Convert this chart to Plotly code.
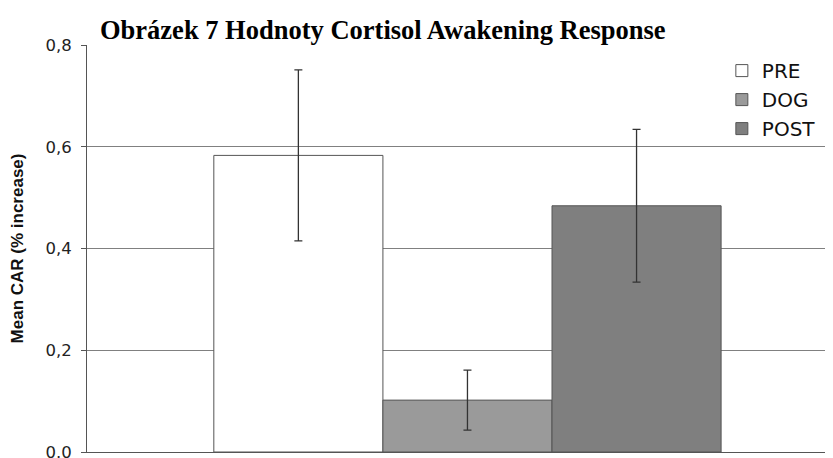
import plotly.graph_objects as go

groups = ["PRE", "DOG", "POST"]
means = [0.583, 0.102, 0.484]
errors = [0.168, 0.059, 0.150]
fills = ["#ffffff", "#9a9a9a", "#7f7f7f"]
y_ticks = [0.0, 0.2, 0.4, 0.6, 0.8]
y_tick_labels = ["0.0", "0,2", "0,4", "0,6", "0,8"]

fig = go.Figure()
for g, m, e, c in zip(groups, means, errors, fills):
    fig.add_trace(go.Bar(
        x=[0], y=[m], name=g, offsetgroup=g,
        marker=dict(color=c, line=dict(color="#555555", width=1)),
        error_y=dict(type="data", array=[e], visible=True, color="#333333", thickness=1.3, width=4),
    ))

# page body has an 8px margin, so the figure is 825x450 placed at (8, 8)
fig.update_layout(
    width=825, height=450,
    barmode="group", bargap=0.32, bargroupgap=0,
    plot_bgcolor="white", paper_bgcolor="white",
    margin=dict(l=79, r=0, t=37, b=6, autoexpand=False),
    title=dict(text="<b>Obrázek 7 Hodnoty Cortisol Awakening Response</b>",
               font=dict(family="Liberation Serif", size=26.5, color="black"),
               x=92/825, xanchor="left", y=1-22/450, yanchor="middle"),
    font=dict(family="DejaVu Sans", color="#222222"),
    xaxis=dict(range=[-0.51, 0.49], showticklabels=False, showgrid=False, zeroline=False,
               showline=True, linecolor="#555555", linewidth=1, ticks=""),
    yaxis=dict(range=[0, 0.8], tickvals=y_ticks, ticktext=y_tick_labels,
               showgrid=True, gridcolor="#808080", gridwidth=1, zeroline=False,
               showline=True, linecolor="#555555", linewidth=1,
               ticks="outside", ticklen=5, tickcolor="#555555", ticklabelstandoff=6,
               ticklabeloverflow="allow",
               tickfont=dict(family="DejaVu Sans", size=16.5, color="#222222"),
               title=dict(text="<b>Mean CAR (% increase)</b>",
                          font=dict(family="Liberation Sans", size=17, color="#111111"), standoff=17)),
    legend=dict(x=0.851, xanchor="left", y=0.985, yanchor="top",
                font=dict(family="DejaVu Sans", size=20, color="#111111"),
                bgcolor="rgba(0,0,0,0)", tracegroupgap=0),
    showlegend=True,
)

fig.write_html("out.html")
